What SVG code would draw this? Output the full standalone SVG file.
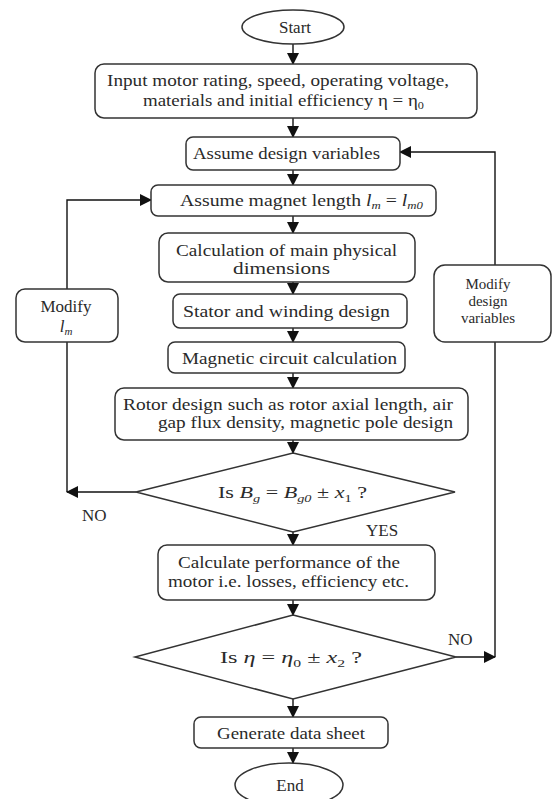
<svg xmlns="http://www.w3.org/2000/svg" width="554" height="799" viewBox="0 0 554 799" font-family="Liberation Serif, DejaVu Serif, Times New Roman, serif">
<style>
  .box { fill: #fff; stroke: #333; stroke-width: 1.5; }
  .t { font-size: 17px; fill: #2a2a2a; }
  .c { text-anchor: middle; }
  .i { font-style: italic; }
  .sub { font-size: 11px; }
  .ln { fill: none; stroke: #111; stroke-width: 1.4; }
</style>
<defs>
  <marker id="ah" markerUnits="userSpaceOnUse" markerWidth="12" markerHeight="12" refX="11" refY="6" orient="auto">
    <path d="M0,0 L12,6 L0,12 Z" fill="#111"/>
  </marker>
</defs>
<rect width="554" height="799" fill="#fff"/>

<g id="connectors">
  <line class="ln" x1="293" y1="44" x2="293" y2="64" marker-end="url(#ah)"/>
  <line class="ln" x1="293" y1="118" x2="293" y2="137" marker-end="url(#ah)"/>
  <line class="ln" x1="293" y1="170" x2="293" y2="185" marker-end="url(#ah)"/>
  <line class="ln" x1="293" y1="216" x2="293" y2="233" marker-end="url(#ah)"/>
  <line class="ln" x1="293" y1="282" x2="293" y2="294" marker-end="url(#ah)"/>
  <line class="ln" x1="293" y1="328" x2="293" y2="342" marker-end="url(#ah)"/>
  <line class="ln" x1="293" y1="373" x2="293" y2="388" marker-end="url(#ah)"/>
  <line class="ln" x1="293" y1="440" x2="293" y2="453" marker-end="url(#ah)"/>
  <line class="ln" x1="293" y1="532" x2="293" y2="545" marker-end="url(#ah)"/>
  <line class="ln" x1="293" y1="600" x2="293" y2="615" marker-end="url(#ah)"/>
  <line class="ln" x1="293" y1="699" x2="293" y2="717" marker-end="url(#ah)"/>
  <line class="ln" x1="293" y1="748" x2="293" y2="763" marker-end="url(#ah)"/>
  <line class="ln" x1="136" y1="492" x2="67" y2="492" marker-end="url(#ah)"/>
  <line class="ln" x1="67" y1="342" x2="67" y2="492"/>
  <polyline class="ln" points="67,289 67,200 151,200" marker-end="url(#ah)"/>
  <polyline class="ln" points="456,657 495,657" marker-end="url(#ah)"/>
  <line class="ln" x1="495" y1="657" x2="495" y2="342"/>
  <polyline class="ln" points="495,265 495,152 400,152" marker-end="url(#ah)"/>
  <text class="t" x="82" y="521">NO</text>
  <text class="t" x="366" y="536">YES</text>
  <text class="t" x="448" y="645">NO</text>
</g>

<g id="start">
  <ellipse class="box" cx="293" cy="27" rx="51" ry="17"/>
  <text class="t c" x="295" y="33">Start</text>
</g>

<g id="input">
  <rect class="box" x="95" y="64" width="382" height="54" rx="9"/>
  <text class="t" x="107" y="86" textLength="342" lengthAdjust="spacingAndGlyphs">Input motor rating, speed, operating voltage,</text>
  <text class="t" x="143" y="106" textLength="281" lengthAdjust="spacingAndGlyphs">materials and initial efficiency η = η<tspan class="sub" dy="3">0</tspan></text>
</g>

<g id="assume-vars">
  <rect class="box" x="186" y="137" width="214" height="33" rx="7"/>
  <text class="t" x="193" y="159" textLength="187" lengthAdjust="spacingAndGlyphs">Assume design variables</text>
</g>

<g id="assume-magnet">
  <rect class="box" x="151" y="185" width="285" height="31" rx="7"/>
  <text class="t" x="180" y="206" textLength="243" lengthAdjust="spacingAndGlyphs">Assume magnet length <tspan class="i">l</tspan><tspan class="sub i" dy="3">m</tspan><tspan dy="-3"> = </tspan><tspan class="i">l</tspan><tspan class="sub i" dy="3">m0</tspan></text>
</g>

<g id="main-dims">
  <rect class="box" x="159" y="233" width="256" height="49" rx="9"/>
  <text class="t" x="176" y="256" textLength="221" lengthAdjust="spacingAndGlyphs">Calculation of main physical</text>
  <text class="t" x="233" y="274" textLength="97" lengthAdjust="spacingAndGlyphs">dimensions</text>
</g>

<g id="stator">
  <rect class="box" x="173" y="294" width="234" height="34" rx="7"/>
  <text class="t" x="183" y="317" textLength="207" lengthAdjust="spacingAndGlyphs">Stator and winding design</text>
</g>

<g id="magnetic">
  <rect class="box" x="168" y="342" width="237" height="31" rx="7"/>
  <text class="t" x="182" y="364" textLength="215" lengthAdjust="spacingAndGlyphs">Magnetic circuit calculation</text>
</g>

<g id="rotor">
  <rect class="box" x="115" y="388" width="353" height="52" rx="9"/>
  <text class="t" x="123" y="410" textLength="330" lengthAdjust="spacingAndGlyphs">Rotor design such as rotor axial length, air</text>
  <text class="t" x="158" y="428" textLength="295" lengthAdjust="spacingAndGlyphs">gap flux density, magnetic pole design</text>
</g>

<g id="decision-bg">
  <polygon class="box" points="293,453 455,492 293,532 136,492"/>
  <text class="t" x="218" y="498" textLength="149" lengthAdjust="spacingAndGlyphs">Is  <tspan class="i">B</tspan><tspan class="sub i" dy="4">g</tspan><tspan dy="-4"> = </tspan><tspan class="i">B</tspan><tspan class="sub i" dy="4">g0</tspan><tspan dy="-4"> ± </tspan><tspan class="i">x</tspan><tspan class="sub" dy="4">1</tspan><tspan dy="-4"> ?</tspan></text>
</g>

<g id="performance">
  <rect class="box" x="158" y="545" width="277" height="55" rx="9"/>
  <text class="t" x="178" y="568" textLength="222" lengthAdjust="spacingAndGlyphs">Calculate performance of the</text>
  <text class="t" x="168" y="587" textLength="241" lengthAdjust="spacingAndGlyphs">motor i.e. losses, efficiency etc.</text>
</g>

<g id="decision-eta">
  <polygon class="box" points="293,615 456,657 293,699 135,657"/>
  <text class="t" x="220" y="663" textLength="142" lengthAdjust="spacingAndGlyphs">Is  <tspan class="i">η</tspan> = <tspan class="i">η</tspan><tspan class="sub" dy="4">0</tspan><tspan dy="-4">  ± </tspan><tspan class="i">x</tspan><tspan class="sub" dy="4">2</tspan><tspan dy="-4">  ?</tspan></text>
</g>

<g id="datasheet">
  <rect class="box" x="194" y="717" width="194" height="31" rx="7"/>
  <text class="t" x="217" y="739" textLength="148" lengthAdjust="spacingAndGlyphs">Generate data sheet</text>
</g>

<g id="end">
  <ellipse class="box" cx="289" cy="785" rx="54" ry="22"/>
  <text class="t c" x="290" y="791">End</text>
</g>

<g id="modify-lm">
  <rect class="box" x="16" y="289" width="102" height="53" rx="9"/>
  <text class="t c" x="66" y="312">Modify</text>
  <text class="t c" x="66" y="332"><tspan class="i">l</tspan><tspan class="sub i" dy="3">m</tspan></text>
</g>

<g id="modify-vars">
  <rect class="box" x="434" y="265" width="117" height="77" rx="11"/>
  <text class="t c" x="488" y="289" style="font-size:15px">Modify</text>
  <text class="t c" x="488" y="306" style="font-size:15px">design</text>
  <text class="t c" x="488" y="323" style="font-size:15px">variables</text>
</g>
</svg>
